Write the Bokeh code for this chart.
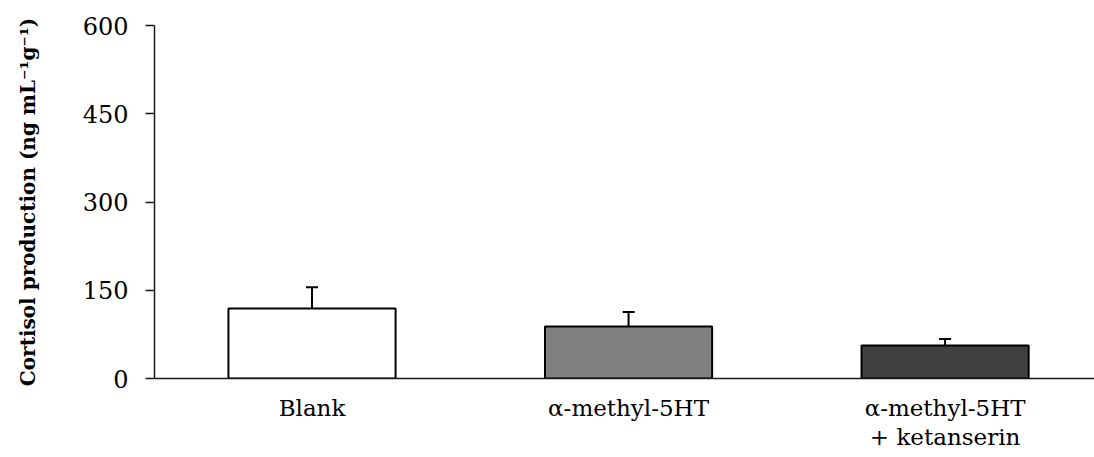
from bokeh.plotting import figure
from bokeh.models import Range1d, FixedTicker, Whisker, TeeHead, ColumnDataSource
from bokeh.embed import file_html
from bokeh.resources import INLINE

categories = ["Blank", "α-methyl-5HT", "α-methyl-5HT\n+ ketanserin"]
values = [119, 88.5, 56]
errors = [36, 24.5, 11]
colors = ["#ffffff", "#808080", "#404040"]
y_ticks = [0, 150, 300, 450, 600]

xs = list(range(len(categories)))
src = ColumnDataSource(dict(
    x=xs, top=values, color=colors,
    upper=[v + e for v, e in zip(values, errors)],
))

FONT = "DejaVu Serif"

p = figure(width=1094, height=457, output_backend="svg", toolbar_location=None,
           x_range=Range1d(-0.4976, 2.472), y_range=Range1d(0, 600),
           min_border_left=154, min_border_right=0, min_border_top=25, min_border_bottom=79)
p.outline_line_color = None
p.xgrid.grid_line_color = None
p.ygrid.grid_line_color = None
p.background_fill_color = "white"
p.border_fill_color = "white"

p.vbar(x="x", top="top", bottom=0, width=0.528, fill_color="color",
       line_color="black", line_width=2, source=src)

w = Whisker(base="x", lower="top", upper="upper", source=src,
            upper_head=TeeHead(size=12, line_width=2, line_color="black"),
            lower_head=None, line_width=2, line_color="black")
p.add_layout(w)

# y axis
ya = p.yaxis[0]
ya.ticker = FixedTicker(ticks=y_ticks)
ya.minor_tick_line_color = None
ya.major_tick_in = 0
ya.major_tick_out = 9
ya.major_tick_line_width = 1.5
ya.axis_line_width = 1.5
ya.axis_line_color = "#1a1a1a"
ya.major_tick_line_color = "#1a1a1a"
ya.major_label_text_font = FONT
ya.major_label_text_font_size = "24px"
ya.major_label_text_color = "black"
ya.major_label_standoff = 17
ya.axis_label = "Cortisol production (ng mL⁻¹g⁻¹)"
ya.axis_label_text_font = FONT
ya.axis_label_text_font_style = "bold"
ya.axis_label_text_font_size = "20px"
ya.axis_label_text_color = "black"
ya.axis_label_standoff = 40

# x axis
xa = p.xaxis[0]
xa.ticker = FixedTicker(ticks=xs)
xa.major_label_overrides = {i: c for i, c in zip(xs, categories)}
xa.major_tick_line_color = None
xa.major_tick_in = 0
xa.major_tick_out = 0
xa.minor_tick_line_color = None
xa.axis_line_width = 1.5
xa.axis_line_color = "#1a1a1a"
xa.major_label_text_font = FONT
xa.major_label_text_font_size = "23px"
xa.major_label_text_color = "black"
xa.major_label_text_line_height = 1.15
xa.major_label_standoff = 16

open("out.html", "w").write(file_html(p, INLINE))
